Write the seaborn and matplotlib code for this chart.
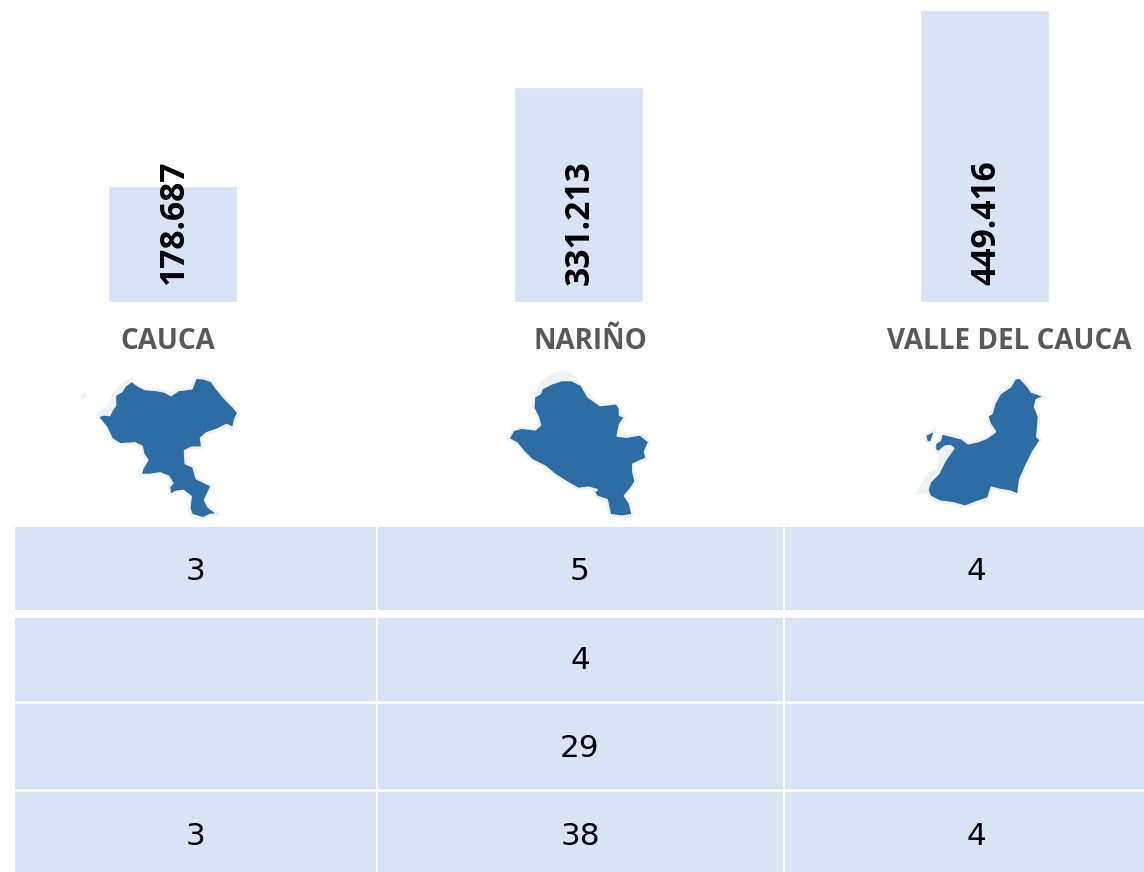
import matplotlib
matplotlib.use("Agg")
import matplotlib.pyplot as plt
from matplotlib.patches import Rectangle, Polygon
import seaborn as sns
import pandas as pd

departments = ["CAUCA", "NARIÑO", "VALLE DEL CAUCA"]
population = [178687, 331213, 449416]
bar_labels = ["178.687", "331.213", "449.416"]
table_rows = [
    ["3", "5", "4"],
    ["", "4", ""],
    ["", "29", ""],
    ["3", "38", "4"],
]

# Map silhouettes (3x crop coordinates)
cauca_shape = [(82,155),(100,148),(118,150),(125,135),(135,122),(135,90),(155,78),(165,62),(185,47),(205,62),(225,72),(260,75),(285,80),(303,90),(325,75),(365,70),(377,38),(400,40),(425,48),(440,70),(465,100),(490,125),(505,143),(495,165),(490,190),(470,180),(440,195),(410,205),(393,220),(397,248),(365,248),(345,258),(347,295),(370,305),(380,340),(405,352),(425,362),(410,395),(405,405),(415,425),(445,448),(420,450),(400,460),(365,450),(358,430),(362,395),(340,378),(320,380),(300,390),(297,365),(307,355),(295,335),(270,325),(240,330),(212,330),(217,310),(232,285),(220,268),(215,245),(195,235),(150,238),(125,222),(110,190),(95,170)]
cauca_coast = [(82,150),(115,125),(130,90),(155,60),(185,42),(200,60),(160,90),(135,130),(105,155)]
cauca_speck = [(35,98),(43,85),(45,92),(38,100)]
narino_shape = [(55,222),(70,195),(95,188),(135,193),(150,180),(143,155),(130,130),(132,95),(150,85),(155,70),(185,55),(215,45),(245,45),(275,60),(295,95),(330,120),(380,115),(390,130),(390,150),(405,155),(390,180),(383,212),(410,215),(450,208),(478,230),(465,260),(470,280),(430,298),(430,320),(437,350),(420,375),(405,392),(420,415),(428,450),(395,455),(360,450),(350,405),(320,395),(310,380),(320,375),(295,368),(265,372),(230,352),(195,330),(165,305),(125,285),(100,260),(80,235)]
narino_coast = [(128,105),(150,60),(185,30),(225,20),(258,40),(262,55),(215,55),(160,90)]
valle_shape = [(82,375),(90,350),(115,325),(135,285),(160,250),(150,243),(135,245),(115,262),(105,255),(105,235),(120,225),(125,205),(145,210),(165,215),(185,220),(205,235),(235,228),(260,218),(285,200),(268,175),(262,152),(275,145),(283,115),(300,85),(330,65),(345,40),(360,38),(385,65),(395,80),(410,85),(435,95),(410,105),(405,125),(417,155),(412,215),(423,225),(400,260),(380,300),(360,345),(355,390),(330,380),(300,375),(275,368),(265,400),(235,410),(195,425),(160,415),(120,410),(90,395)]
valle_coast = [(160,245),(135,245),(120,275),(118,310),(90,325),(65,360),(50,385),(85,380),(120,325),(140,285)]
valle_island = [(75,210),(105,195),(100,215),(92,235),(80,230)]
valle_islet = [(55,378),(75,372),(70,380)]

W, H = 1144, 872
BAR_COLOR = "#DAE3F3"
MAP_COLOR = "#2E6DA4"
GLOW = "#EFF1F4"

sns.set_theme(style="white")
plt.rcParams["font.family"] = ["Open Sans", "DejaVu Sans"]
fig = plt.figure(figsize=(W / 100, H / 100), dpi=100, facecolor="white")

ov = fig.add_axes([0, 0, 1, 1])
ov.set_xlim(0, W)
ov.set_ylim(H, 0)
ov.axis("off")

# Bars
base_px = 302
px_per_unit = 292 / 449416
ax = fig.add_axes([0, (H - base_px) / H, 1, base_px / H])
ax.patch.set_alpha(0)
df = pd.DataFrame({"dep": departments, "pop": population})
sns.barplot(data=df, x="dep", y="pop", order=departments, color=BAR_COLOR,
            saturation=1, width=128.6 / 406, ax=ax)
ax.set_xlim(-172.7 / 406, (W - 172.7) / 406)
ax.set_ylim(0, base_px / px_per_unit)
ax.axis("off")
for i, lab in enumerate(bar_labels):
    ax.annotate(lab, xy=(i, 0), xytext=(1, 17 * 0.72), textcoords="offset points",
                rotation=90, ha="center", va="bottom", fontsize=24.2,
                fontweight="bold", color="black", annotation_clip=False)

# Department names
for name, x in zip(departments, [168, 590, 1009]):
    ov.text(x, 341, name, ha="center", va="center", fontsize=20,
            fontweight="bold", color="#595959")

# Maps
def add_shape(points, ox, oy, color=MAP_COLOR, edge=GLOW):
    xy = [(ox + px / 3, oy + py / 3) for px, py in points]
    ov.add_patch(Polygon(xy, closed=True, facecolor=color, edgecolor=edge,
                         linewidth=1.8, joinstyle="round"))

add_shape(cauca_coast, 70, 365, GLOW)
add_shape(cauca_speck, 70, 365, GLOW)
add_shape(cauca_shape, 70, 365)
add_shape(narino_coast, 490, 365, GLOW)
add_shape(narino_shape, 490, 365)
add_shape(valle_coast, 900, 365, GLOW)
add_shape(valle_shape, 900, 365)
add_shape(valle_island, 900, 365)
add_shape(valle_islet, 900, 365)

# Table
col_edges = [(15, 376), (378, 783), (785, 1144)]
row_edges = [(527, 610), (618, 701), (704, 789), (792, 872)]
col_text_x = [195, 580, 976]
row_text_y = [571, 660, 748, 836]
for r, (y0, y1) in enumerate(row_edges):
    for c, (x0, x1) in enumerate(col_edges):
        ov.add_patch(Rectangle((x0, y0), x1 - x0, y1 - y0, facecolor=BAR_COLOR, edgecolor="none"))
        if table_rows[r][c]:
            ov.text(col_text_x[c], row_text_y[r], table_rows[r][c], ha="center", va="center",
                    fontsize=22.4, color="black", family="DejaVu Sans")

fig.savefig("out.png", dpi=100)
